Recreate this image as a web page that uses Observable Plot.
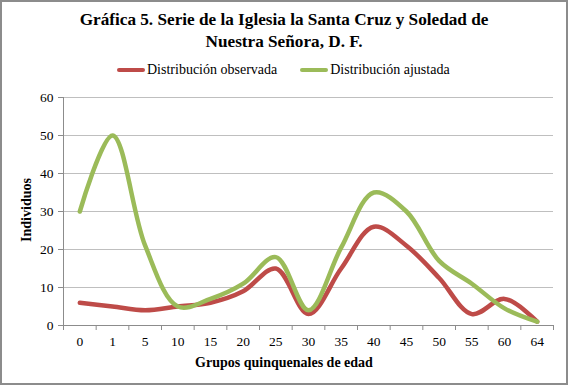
<!DOCTYPE html>
<html><head><meta charset="utf-8">
<script src="https://cdn.jsdelivr.net/npm/d3@7"></script>
<script src="https://cdn.jsdelivr.net/npm/@observablehq/plot@0.6"></script>
<style>
html,body{margin:0;padding:0;background:#fff;}
#wrap{position:relative;width:568px;height:385px;box-sizing:border-box;border:2px solid #8c8c8c;overflow:hidden;font-family:"Liberation Serif",serif;color:#000;}
#title{position:absolute;left:0;top:7px;width:564px;text-align:center;font-weight:bold;font-size:17.2px;line-height:22px;}
#legend{position:absolute;left:115px;top:60px;white-space:nowrap;font-size:14px;}
#legend span.item{display:inline-block;margin-right:23px;}
#legend span.sw{display:inline-block;width:28px;height:4px;border-radius:2px;vertical-align:middle;margin-right:2px;position:relative;top:-1px;}
#chart{position:absolute;left:-2px;top:80px;width:568px;}
#chart svg{max-width:none !important;}
#xlabel{position:absolute;left:0;width:564px;top:353px;text-align:center;font-weight:bold;font-size:14px;}
#ylabel{position:absolute;left:25px;top:208px;transform:translate(-50%,-50%) rotate(-90deg);font-weight:bold;font-size:14px;white-space:nowrap;}
</style></head>
<body>
<div id="wrap">
  <div id="title">Gráfica 5. Serie de la Iglesia la Santa Cruz y Soledad de<br>Nuestra Señora, D. F.</div>
  <div id="legend"></div>
  <div id="chart"></div>
  <div id="xlabel">Grupos quinquenales de edad</div>
  <div id="ylabel">Individuos</div>
</div>
<script>
const categories = ["0","1","5","10","15","20","25","30","35","40","45","50","55","60","64"];
const observada = [6,5,4,5,6,9,15,3,15,26,21,12.5,3,7,1];
const ajustada = [30,50,21,5,7,11,18,4,20.5,35,30,17,11,4.5,1];
const seriesNames = ["Distribución observada","Distribución ajustada"];
const colors = ["#be4b48","#9bbb59"];
const yTicks = [0,10,20,30,40,50,60];

const legend = document.getElementById("legend");
seriesNames.forEach((n,i)=>{
  const s = document.createElement("span"); s.className="item";
  s.innerHTML = `<span class="sw" style="background:${colors[i]}"></span>${n}`;
  legend.appendChild(s);
});

const data = [];
categories.forEach((c,i)=>{
  data.push({cat:c, v:observada[i], s:seriesNames[0]});
  data.push({cat:c, v:ajustada[i], s:seriesNames[1]});
});

const W = 568, marginLeft = 63, marginRight = 15;
const step = (W - marginLeft - marginRight) / categories.length;

const plot = Plot.plot({
  width: W, height: 304,
  marginLeft, marginRight, marginTop: 15, marginBottom: 61,
  style: {fontFamily: "'Liberation Serif', serif", fontSize: "13.5px", color: "#000", background: "transparent", maxWidth: "none"},
  x: {type: "point", domain: categories, padding: 0.5, round: false, axis: null},
  y: {domain: [0,60], axis: null},
  color: {domain: seriesNames, range: colors},
  marks: [
    Plot.ruleY(yTicks.slice(1), {stroke: "#bfbfbf", strokeWidth: 1}),
    Plot.axisY(yTicks, {tickSize: 5, tickPadding: 5, stroke: "#8c8c8c", label: null, fontSize: 13.5}),
    Plot.ruleX([categories[0]], {y1: 0, y2: 60, dx: -step/2, stroke: "#8c8c8c"}),
    Plot.ruleY([0], {stroke: "#8c8c8c"}),
    Plot.axisX(categories, {tickSize: 0, tickPadding: 11, label: null, fontSize: 13.5}),
    Plot.ruleX(categories, {x: d => d, y1: 0, y2: 0, insetBottom: -5, dx: -step/2, stroke: "#8c8c8c"}),
    Plot.ruleX([categories[categories.length-1]], {x: d => d, y1: 0, y2: 0, insetBottom: -5, dx: step/2, stroke: "#8c8c8c"}),
    Plot.line(data, {x: "cat", y: "v", z: "s", stroke: "s", strokeWidth: 4.5, curve: "catmull-rom", strokeLinecap: "round", strokeLinejoin: "round"})
  ]
});
document.getElementById("chart").appendChild(plot);
</script>
</body></html>
